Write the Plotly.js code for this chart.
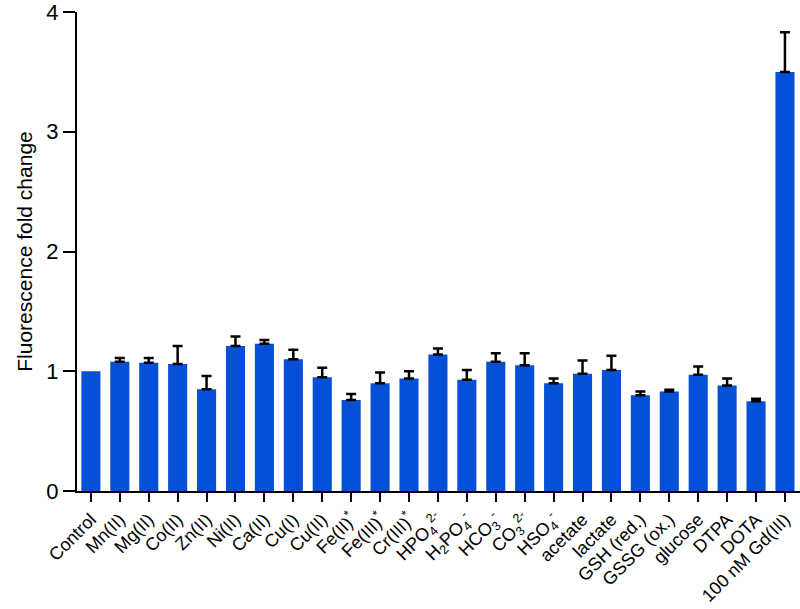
<!DOCTYPE html>
<html>
<head>
<meta charset="utf-8">
<script src="https://cdn.plot.ly/plotly-3.0.1.min.js"></script>
<style>
  html, body { margin: 0; padding: 0; background: #fff; }
  #plot { width: 800px; height: 609px; }
</style>
</head>
<body>
<div id="plot"></div>
<script>
// categories and values
const labels = [
  "Control", "Mn(II)", "Mg(II)", "Co(II)", "Zn(II)", "Ni(II)", "Ca(II)", "Cu(I)", "Cu(II)",
  "Fe(II)<sup>*</sup>", "Fe(III)<sup>*</sup>", "Cr(III)<sup>*</sup>",
  "HPO<sub>4</sub><sup>2-</sup>", "H<sub>2</sub>PO<sub>4</sub><sup>-</sup>",
  "HCO<sub>3</sub><sup>-</sup>", "CO<sub>3</sub><sup>2-</sup>", "HSO<sub>4</sub><sup>-</sup>",
  "acetate", "lactate", "GSH (red.)", "GSSG (ox.)", "glucose", "DTPA", "DOTA", "100 nM Gd(III)"
];
const foldChange = [1.00, 1.08, 1.07, 1.06, 0.85, 1.21, 1.23, 1.10, 0.95, 0.76, 0.90, 0.94,
  1.14, 0.93, 1.08, 1.05, 0.90, 0.98, 1.01, 0.80, 0.83, 0.97, 0.88, 0.75, 3.50];
// upper error only (SD); Control has none
const errUp = [NaN, 0.03, 0.04, 0.15, 0.11, 0.08, 0.03, 0.08, 0.08, 0.05, 0.09, 0.06,
  0.05, 0.08, 0.07, 0.10, 0.04, 0.11, 0.12, 0.03, 0.015, 0.07, 0.06, 0.02, 0.33];

const xIdx = labels.map((_, i) => i);

let trace = {
    type: "bar",
    x: xIdx,
    y: foldChange,
    marker: { color: "#0650D8" },
    error_y: {
        type: "data",
        symmetric: false,
        array: errUp,
        arrayminus: errUp.map(e => (isNaN(e) ? NaN : 0)),
        color: "#000",
        thickness: 2.5,
        width: 5
    },
    hoverinfo: "none"
};

let layout = {
    width: 800,
    height: 609,
    margin: { l: 77, r: 0, t: 12, b: 118 },
    paper_bgcolor: "#fff",
    plot_bgcolor: "#fff",
    bargap: 0.34,
    showlegend: false,
    font: { family: "Liberation Sans, Arial, sans-serif", color: "#000" },
    xaxis: {
        range: [-0.48, 24.52],
        tickmode: "array",
        tickvals: xIdx,
        ticktext: labels,
        tickangle: -45,
        tickfont: { size: 18 },
        ticks: "outside",
        ticklen: 9,
        tickwidth: 2,
        tickcolor: "#000",
        showline: true,
        linewidth: 2,
        linecolor: "#000",
        showgrid: false,
        zeroline: false,
        automargin: false,
        ticklabeloverflow: "allow"
    },
    yaxis: {
        range: [0, 4],
        tickvals: [0, 1, 2, 3, 4],
        tickfont: { size: 22 },
        ticks: "outside",
        ticklen: 12,
        tickwidth: 2,
        tickcolor: "#000",
        showline: true,
        linewidth: 2,
        linecolor: "#000",
        showgrid: false,
        zeroline: false,
        automargin: false,
        ticklabeloverflow: "allow",
        title: { text: "Fluorescence fold change", font: { size: 21 }, standoff: 8 }
    }
};

Plotly.newPlot("plot", [trace], layout, { staticPlot: true });
</script>
</body>
</html>
